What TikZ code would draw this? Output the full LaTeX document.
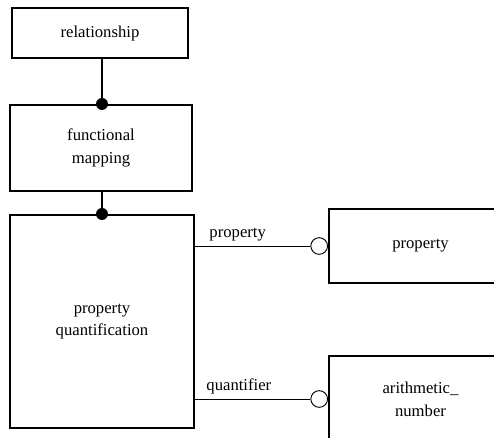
\documentclass[tikz,border=0pt]{standalone}
\usepackage{fontspec}
\setmainfont{Liberation Serif}
\usetikzlibrary{positioning}

\tikzset{
  entity/.style={draw,line width=1.5pt,rectangle,align=center,
    font=\rmfamily\fontsize{12.5}{17}\selectfont},
  blob/.style={circle,fill=black,inner sep=0pt,minimum size=9pt},
  ring/.style={circle,draw,fill=white,line width=0.7pt,inner sep=0pt,minimum size=12.5pt},
  heavy/.style={line width=1.5pt},
  thin link/.style={line width=0.7pt},
  role/.style={font=\rmfamily\fontsize{12.5}{14}\selectfont,above}
}

\begin{document}
\begin{tikzpicture}[x=0.75pt,y=-0.75pt]
  \fill[white] (0,0) rectangle (494,438);
  \useasboundingbox (0,0) rectangle (494,438);
  \clip (0,0) rectangle (494,438);

  % entities
  \node[entity,minimum width=132pt,minimum height=37.5pt] (rel) at (100,33) {relationship};
  \node[entity,minimum width=136.5pt,minimum height=64.5pt] (fmap) at (101,148) {functional\\mapping};
  \node[entity,minimum width=138pt,minimum height=159.75pt] (pquant) at (102,321.5) {property\\quantification};
  \node[entity,minimum width=137.25pt,minimum height=55.5pt] (prop) at (420.5,246) {property};
  \node[entity,minimum width=137.25pt,minimum height=64.5pt] (arith) at (420.5,399) {arithmetic\_\\number};

  % subtype links
  \coordinate (spine) at (102,0);
  \node[blob] (d1) at (spine |- fmap.north) {};
  \node[blob] (d2) at (spine |- pquant.north) {};
  \draw[heavy] (d1) -- (d1 |- rel.south);
  \draw[heavy] (d2) -- (d2 |- fmap.south);

  % roles
  \node[ring,left=0pt of prop.west] (r1) {};
  \node[ring,left=0pt of arith.west] (r2) {};
  \draw[thin link] (r1) -- node[role,pos=0.63] {property} (r1 -| pquant.east);
  \draw[thin link] (r2) -- node[role,pos=0.62] {quantifier} (r2 -| pquant.east);
\end{tikzpicture}
\end{document}
